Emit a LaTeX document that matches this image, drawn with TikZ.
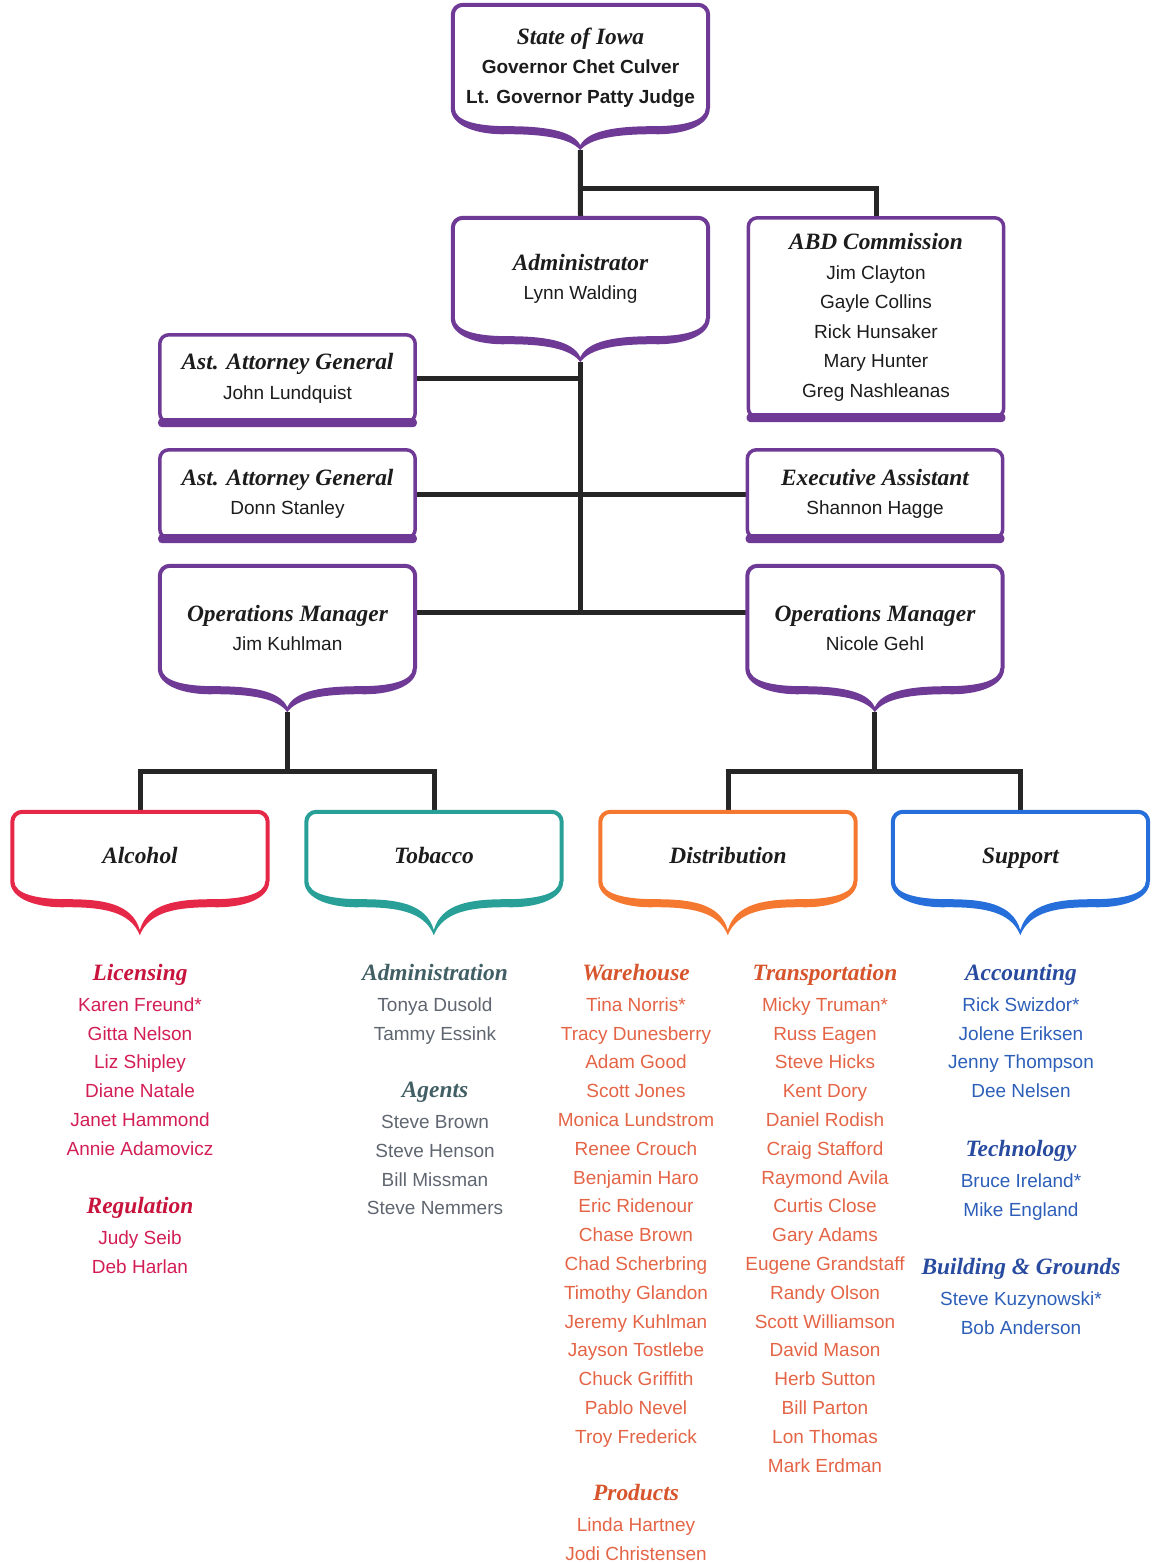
\documentclass[tikz,border=0pt]{standalone}
\usepackage{fontspec}
\setmainfont{Liberation Sans}
\newfontfamily\hdserif{Liberation Serif}
\usetikzlibrary{calc,backgrounds}

\definecolor{boxpurple}{RGB}{110,58,150}
\definecolor{alcred}{RGB}{230,40,72}
\definecolor{tobteal}{RGB}{40,160,152}
\definecolor{distorange}{RGB}{245,120,48}
\definecolor{supblue}{RGB}{38,110,218}
\definecolor{linkgray}{RGB}{38,38,38}
\definecolor{inkdark}{RGB}{28,28,28}
\definecolor{alcHd}{RGB}{200,20,60}
\definecolor{alcTx}{RGB}{210,30,85}
\definecolor{tobHd}{RGB}{65,95,100}
\definecolor{tobTx}{RGB}{95,102,112}
\definecolor{distHd}{RGB}{215,85,45}
\definecolor{distTx}{RGB}{228,100,70}
\definecolor{supHd}{RGB}{40,75,160}
\definecolor{supTx}{RGB}{45,95,185}

\newcommand\hd[1]{{\hdserif\bfseries\itshape\fontsize{23.4}{29}\selectfont #1}}
\newcommand\sect[2]{\textcolor{#1}{\hd{#2}}}

%% box with a brace-like bottom: name, colour, depth of the tip
\newcommand\scallop[3]{%
  \draw[#2, line width=4pt, rounded corners=10pt] ($(#1.south west)+(0,-22)$) -- (#1.north west) -- (#1.north east) -- ($(#1.south east)+(0,-22)$);
  \begin{scope}[shift={(#1.south west)}]
    \fill[#2] (-2,-22) .. controls (-2,-4) and (25,5) .. (55,4)
      .. controls (90,4) and (118,8) .. (127.5,#3)
      .. controls (137,8) and (165,4) .. (200,4)
      .. controls (230,5) and (257,-4) .. (257,-22)
      -- (253,-22)
      .. controls (253,-9) and (230,-4) .. (200,-4)
      .. controls (165,-4) and (135,0) .. (127.5,#3-5)
      .. controls (120,0) and (90,-4) .. (55,-4)
      .. controls (25,-4) and (2,-9) .. (2,-22) -- cycle;
    \coordinate (#1-tip) at (127.5,#3);
  \end{scope}
}
%% plain box with a heavy bottom edge
\newcommand\panel[2]{%
  \draw[#2, line width=3.5pt, rounded corners=9pt] (#1.south west) rectangle (#1.north east);
  \fill[#2, rounded corners=4pt] ($(#1.south west)+(-1.75,5)$) rectangle ($(#1.south east)+(1.75,-4)$);
}

\tikzset{
  unitbox/.style={rectangle, inner sep=0pt, minimum width=255pt, align=center, text=inkdark, font=\fontsize{19}{29.5}\selectfont},
  staff/.style={anchor=north, inner sep=0pt, align=center, font=\fontsize{19}{28.8}\selectfont},
  link/.style={draw=linkgray, line width=5pt},
}

\begin{document}
\begin{tikzpicture}[x=1pt, y=-1pt]
  \useasboundingbox (0,0) rectangle (1156,1562);

  %% top of the chart
  \node[unitbox, minimum height=125pt] (iowa) at (580.5,67.5) {\hd{State of Iowa}\\ \textbf{Governor Chet Culver}\\ \textbf{Lt. Governor Patty Judge}};
  \node[unitbox, minimum height=122pt] (admin) at (580.5,279) {\hd{Administrator}\\ Lynn Walding};
  \node[unitbox, minimum height=199pt] (abd) at (876,317.5) {\hd{ABD Commission}\\ Jim Clayton\\ Gayle Collins\\ Rick Hunsaker\\ Mary Hunter\\ Greg Nashleanas};
  \node[unitbox, minimum height=87pt] (ag1) at (287.5,378.5) {\hd{Ast. Attorney General}\\ John Lundquist};
  \node[unitbox, minimum height=88pt] (ag2) at (287.5,494) {\hd{Ast. Attorney General}\\ Donn Stanley};
  \node[unitbox, minimum height=88pt] (exec) at (875,494) {\hd{Executive Assistant}\\ Shannon Hagge};
  \node[unitbox, minimum height=124pt] (opsL) at (287.5,628) {\hd{Operations Manager}\\ Jim Kuhlman};
  \node[unitbox, minimum height=124pt] (opsR) at (875,628) {\hd{Operations Manager}\\ Nicole Gehl};

  %% divisions
  \node[unitbox, minimum height=91pt] (alcohol) at (140,857.5) {\hd{Alcohol}\strut};
  \node[unitbox, minimum height=91pt] (tobacco) at (434,857.5) {\hd{Tobacco}\strut};
  \node[unitbox, minimum height=91pt] (distrib) at (728,857.5) {\hd{Distribution}\strut};
  \node[unitbox, minimum height=91pt] (support) at (1020.5,857.5) {\hd{Support}\strut};

  \scallop{iowa}{boxpurple}{20}
  \scallop{admin}{boxpurple}{22}
  \scallop{opsL}{boxpurple}{22}
  \scallop{opsR}{boxpurple}{22}
  \scallop{alcohol}{alcred}{32}
  \scallop{tobacco}{tobteal}{32}
  \scallop{distrib}{distorange}{32}
  \scallop{support}{supblue}{32}
  \panel{abd}{boxpurple}
  \panel{ag1}{boxpurple}
  \panel{ag2}{boxpurple}
  \panel{exec}{boxpurple}

  \begin{scope}[on background layer]
    \draw[link] (iowa-tip) -- (admin.north); %% iowa->admin
    \draw[link] (iowa-tip) ++(0,38) -| (abd.north); %% iowa->abd
    \draw[link] (ag1.east) -- (ag1.east -| admin-tip);
    \draw[link] (ag2.east) -- (exec.west);
    \draw[link] (admin-tip) |- ([yshift=16pt]opsL.east);
    \draw[link] (admin-tip) |- ([yshift=16pt]opsR.west);
    \draw[link] (opsL-tip) -- ++(0,59) coordinate (forkL);
    \draw[link] (alcohol.north) |- (forkL) -| (tobacco.north);
    \draw[link] (opsR-tip) -- ++(0,59) coordinate (forkR);
    \draw[link] (distrib.north) |- (forkR) -| (support.north);
  \end{scope}

  %% staff lists
  \node[staff, text=alcTx] (licensing) at (140,964) {\sect{alcHd}{Licensing}\\[2pt] Karen Freund*\\ Gitta Nelson\\ Liz Shipley\\ Diane Natale\\ Janet Hammond\\ Annie Adamovicz};
  \node[staff, text=alcTx] (regulation) at (140,1197) {\sect{alcHd}{Regulation}\\[2pt] Judy Seib\\ Deb Harlan};
  \node[staff, text=tobTx] (tobadmin) at (435,964) {\sect{tobHd}{Administration}\\[2pt] Tonya Dusold\\ Tammy Essink};
  \node[staff, text=tobTx] (agents) at (435,1082) {\sect{tobHd}{Agents}\\[2pt] Steve Brown\\ Steve Henson\\ Bill Missman\\ Steve Nemmers};
  \node[staff, text=distTx] (warehouse) at (636,964) {\sect{distHd}{Warehouse}\\[2pt] Tina Norris*\\ Tracy Dunesberry\\ Adam Good\\ Scott Jones\\ Monica Lundstrom\\ Renee Crouch\\ Benjamin Haro\\ Eric Ridenour\\ Chase Brown\\ Chad Scherbring\\ Timothy Glandon\\ Jeremy Kuhlman\\ Jayson Tostlebe\\ Chuck Griffith\\ Pablo Nevel\\ Troy Frederick};
  \node[staff, text=distTx] (products) at (636,1484) {\sect{distHd}{Products}\\[2pt] Linda Hartney\\ Jodi Christensen};
  \node[staff, text=distTx] (transport) at (825,964) {\sect{distHd}{Transportation}\\[2pt] Micky Truman*\\ Russ Eagen\\ Steve Hicks\\ Kent Dory\\ Daniel Rodish\\ Craig Stafford\\ Raymond Avila\\ Curtis Close\\ Gary Adams\\ Eugene Grandstaff\\ Randy Olson\\ Scott Williamson\\ David Mason\\ Herb Sutton\\ Bill Parton\\ Lon Thomas\\ Mark Erdman};
  \node[staff, text=supTx] (accounting) at (1021,964) {\sect{supHd}{Accounting}\\[2pt] Rick Swizdor*\\ Jolene Eriksen\\ Jenny Thompson\\ Dee Nelsen};
  \node[staff, text=supTx] (technology) at (1021,1140) {\sect{supHd}{Technology}\\[2pt] Bruce Ireland*\\ Mike England};
  \node[staff, text=supTx] (grounds) at (1021,1258) {\sect{supHd}{Building \& Grounds}\\[2pt] Steve Kuzynowski*\\ Bob Anderson};
\end{tikzpicture}
\end{document}
